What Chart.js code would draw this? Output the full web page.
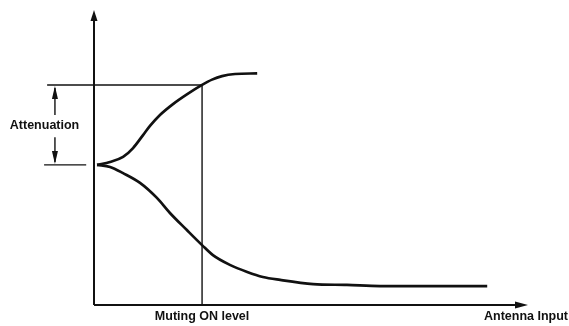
<!DOCTYPE html>
<html>
<head>
<meta charset="utf-8">
<script src="https://cdn.jsdelivr.net/npm/chart.js@4.4.0/dist/chart.umd.min.js"></script>
<style>
  html, body { margin: 0; padding: 0; background: #ffffff; }
  canvas { display: block; }
</style>
</head>
<body>
<canvas id="c" width="569" height="326"></canvas>
<script>
// ---- Data (abstract units: x = antenna input 0..100, y = output level 0..100) ----
const upperX = [0.7, 3.7, 6.7, 9.0, 11.3, 12.9, 15.2, 18.2, 21.4, 24.9, 27.2, 29.5, 32.5, 37.6];
const upperY = [47.5, 48.5, 50.2, 53.2, 57.6, 60.7, 64.4, 68.1, 71.4, 74.6, 76.4, 77.6, 78.3, 78.5];
const lowerX = [0.7, 3.7, 6.7, 10.6, 14.5, 17.5, 21.4, 24.9, 27.4, 31.3, 35.3, 38.9, 42.9, 50.5, 58.3, 65.9, 90.6];
const lowerY = [47.5, 46.8, 44.7, 41.4, 36.3, 31.2, 25.4, 20.3, 16.9, 13.6, 11.2, 9.5, 8.5, 7.1, 6.8, 6.4, 6.4];
const mutingLevel = 24.9;   // x where muting turns ON
const attenTop = 74.6;      // level at muting ON
const attenBase = 47.5;     // starting level
const labels = { atten: "Attenuation", muting: "Muting ON level", xAxis: "Antenna Input" };

const toPts = (xs, ys) => xs.map((x, i) => ({ x: x, y: ys[i] }));
const INK = '#111111';

function lineDs(data, w) {
  return {
    data: data, borderColor: INK, borderWidth: w, pointRadius: 0,
    fill: false, clip: false, tension: 0
  };
}

const curveUpper = Object.assign(lineDs(toPts(upperX, upperY), 2.7), { cubicInterpolationMode: 'monotone' });
const curveLower = Object.assign(lineDs(toPts(lowerX, lowerY), 2.7), { cubicInterpolationMode: 'monotone' });

const datasets = [
  curveUpper,
  curveLower,
  lineDs([{ x: 0, y: 0 }, { x: 97, y: 0 }], 2),                       // x axis
  lineDs([{ x: 0, y: 0 }, { x: 0, y: 97 }], 2),                       // y axis
  lineDs([{ x: mutingLevel, y: 0 }, { x: mutingLevel, y: attenTop }], 1.4),
  lineDs([{ x: -10.8, y: attenTop }, { x: mutingLevel, y: attenTop }], 1.4),
  lineDs([{ x: -11.5, y: attenBase }, { x: -1.8, y: attenBase }], 1.4),
  lineDs([{ x: -9.0, y: attenTop - 1 }, { x: -9.0, y: 64.4 }], 1.4),
  lineDs([{ x: -9.0, y: 56.9 }, { x: -9.0, y: attenBase + 1 }], 1.4)
];

const decor = {
  id: 'decor',
  afterDatasetsDraw(chart) {
    const ctx = chart.ctx;
    const xs = chart.scales.x, ys = chart.scales.y;
    const px = v => xs.getPixelForValue(v), py = v => ys.getPixelForValue(v);
    ctx.save();
    ctx.fillStyle = INK;
    function tri(a, b, c) {
      ctx.beginPath(); ctx.moveTo(a[0], a[1]); ctx.lineTo(b[0], b[1]); ctx.lineTo(c[0], c[1]); ctx.closePath(); ctx.fill();
    }
    // y axis arrow (up)
    const yx = px(0), yt = py(100);
    tri([yx, yt], [yx - 3.5, yt + 11], [yx + 3.5, yt + 11]);
    // x axis arrow (right)
    const xr = px(100), xy = py(0);
    tri([xr, xy], [xr - 13, xy - 3.5], [xr - 13, xy + 3.5]);
    // attenuation arrows
    const ax = px(-9.0), at = py(attenTop), ab = py(attenBase);
    tri([ax, at + 1], [ax - 3, at + 14], [ax + 3, at + 14]);
    tri([ax, ab - 1], [ax - 3, ab - 14], [ax + 3, ab - 14]);
    // texts
    ctx.font = "bold 12.5px 'Liberation Sans', Arial, sans-serif";
    ctx.textBaseline = 'middle';
    ctx.textAlign = 'center';
    ctx.fillText(labels.atten, px(-11.4), py(61.0));
    ctx.fillText(labels.muting, px(mutingLevel), xy + 12);
    ctx.textAlign = 'right';
    ctx.fillText(labels.xAxis, chart.width - 1, xy + 12);
    ctx.restore();
  }
};

new Chart(document.getElementById('c'), {
  type: 'scatter',
  data: { datasets: datasets },
  options: {
    responsive: false,
    animation: false,
    showLine: true,
    layout: { padding: { left: 94, right: 41, top: 10, bottom: 21 } },
    plugins: { legend: { display: false }, tooltip: { enabled: false } },
    scales: {
      x: { type: 'linear', min: 0, max: 100, display: false },
      y: { type: 'linear', min: 0, max: 100, display: false }
    }
  },
  plugins: [decor]
});
</script>
</body>
</html>
